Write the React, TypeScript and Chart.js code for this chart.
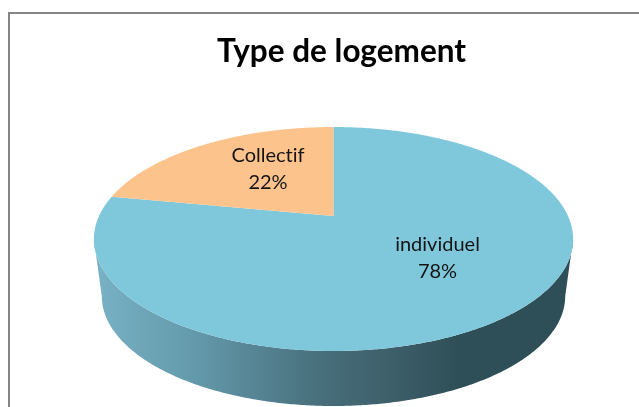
import React, { useEffect, useRef } from "react";
import { Chart, registerables } from "chart.js";

Chart.register(...registerables);

const categories = ["individuel", "Collectif"];
const shares = [78, 22];
const sliceColors = ["#7fc8dc", "#fdc38d"];
const titleText = "Type de logement";

const FONT = "Lato, Carlito, 'Open Sans', sans-serif";
// perspective projection of the pie disc, fitted to the picture
const PROJ = { cx: 333.5, cy: 216, a: 62.9, c: -0.2054 };
// lower rim of the wall
const BASE = { cx: 333.5, k: 0.967, ky: 0.982, y0: 239, y1: 296 };
const LABEL_AT = [
  { x: 437.5, y: 245, dy: 27 },
  { x: 268, y: 156, dy: 27 },
];
const WALL_STOPS: [number, string][] = [
  [0, "#78b2c4"],
  [0.22, "#6298aa"],
  [0.47, "#486f7c"],
  [0.62, "#3d5f6a"],
  [0.76, "#2f4f58"],
  [1, "#2f4f58"],
];

function project(angle: number, r: number, R: number) {
  const u = (Math.cos(angle) * r) / R;
  const v = (Math.sin(angle) * r) / R;
  const d = 1 + PROJ.c * v;
  return { x: PROJ.cx + (R * u) / d, y: (PROJ.a * v + PROJ.cy) / d };
}

function toBase(p: { x: number; y: number }) {
  return {
    x: BASE.cx + (p.x - BASE.cx) * BASE.k,
    y: BASE.y1 + (p.y - BASE.y0) * BASE.ky,
  };
}

const framePlugin = {
  id: "frame",
  beforeDraw(chart: any) {
    const { ctx, width, height } = chart;
    ctx.save();
    ctx.strokeStyle = "#858585";
    ctx.lineWidth = 2;
    ctx.beginPath();
    ctx.moveTo(9, height);
    ctx.lineTo(9, 13);
    ctx.lineTo(width, 13);
    ctx.stroke();
    ctx.restore();
  },
};

const pie3dPlugin = {
  id: "pie3d",
  beforeDatasetDraw(chart: any) {
    const { ctx } = chart;
    const arcs = chart.getDatasetMeta(0).data;
    const R = arcs[0].outerRadius;
    const STEP = Math.PI / 360;

    // wall: visible rim between the outermost left and right points
    const samples: { a: number; x: number }[] = [];
    for (let a = 0; a <= Math.PI * 2; a += STEP) {
      samples.push({ a, x: project(a, R, R).x });
    }
    const right = samples.reduce((m, s) => (s.x > m.x ? s : m));
    const left = samples.reduce((m, s) => (s.x < m.x ? s : m));
    let from = right.a;
    let to = left.a;
    if (from > Math.PI) from -= Math.PI * 2;
    if (to < from) to += Math.PI * 2;

    const grad = ctx.createLinearGradient(94, 0, 573, 0);
    WALL_STOPS.forEach(([o, c]) => grad.addColorStop(o, c));
    ctx.save();
    ctx.fillStyle = grad;
    ctx.beginPath();
    const rim: { x: number; y: number }[] = [];
    for (let a = from; a <= to; a += STEP) rim.push(project(a, R, R));
    rim.forEach((p, i) => (i ? ctx.lineTo(p.x, p.y) : ctx.moveTo(p.x, p.y)));
    for (let i = rim.length - 1; i >= 0; i--) {
      const b = toBase(rim[i]);
      ctx.lineTo(b.x, b.y);
    }
    ctx.closePath();
    ctx.fill();

    // top face
    arcs.forEach((arc: any, i: number) => {
      ctx.fillStyle = sliceColors[i];
      ctx.beginPath();
      const c = project(0, 0, R);
      ctx.moveTo(c.x, c.y);
      for (let a = arc.startAngle; a < arc.endAngle; a += STEP) {
        const p = project(a, R, R);
        ctx.lineTo(p.x, p.y);
      }
      const e = project(arc.endAngle, R, R);
      ctx.lineTo(e.x, e.y);
      ctx.closePath();
      ctx.fill();
    });

    // data labels
    ctx.fillStyle = "#141414";
    ctx.font = `20px ${FONT}`;
    (ctx as any).textRendering = "optimizeSpeed";
    ctx.textAlign = "center";
    ctx.textBaseline = "middle";
    const total = shares.reduce((s, v) => s + v, 0);
    categories.forEach((name, i) => {
      const at = LABEL_AT[i];
      ctx.fillText(name, at.x, at.y);
      ctx.fillText(`${Math.round((shares[i] / total) * 100)}%`, at.x, at.y + at.dy);
    });
    ctx.restore();
    return false;
  },
};

export default function App() {
  const ref = useRef<HTMLCanvasElement>(null);
  useEffect(() => {
    const chart = new Chart(ref.current as HTMLCanvasElement, {
      type: "pie",
      data: {
        labels: categories,
        datasets: [
          {
            data: shares,
            backgroundColor: sliceColors,
            borderWidth: 0,
            radius: 234.5,
          },
        ],
      },
      options: {
        animation: false,
        responsive: false,
        layout: { padding: { left: 44 } },
        plugins: {
          legend: { display: false },
          tooltip: { enabled: false },
          title: {
            display: true,
            text: titleText,
            fullSize: false,
            color: "#000000",
            font: { family: FONT, size: 31.5, weight: "bold" },
            padding: { top: 33, bottom: 8 },
          },
        },
      },
      plugins: [framePlugin, pie3dPlugin],
    } as any);
    return () => chart.destroy();
  }, []);
  return (
    <div style={{ position: "absolute", left: 0, top: 0, width: 639, height: 407, background: "#fff" }}>
      <canvas ref={ref} width={639} height={407} style={{ display: "block" }} />
    </div>
  );
}
